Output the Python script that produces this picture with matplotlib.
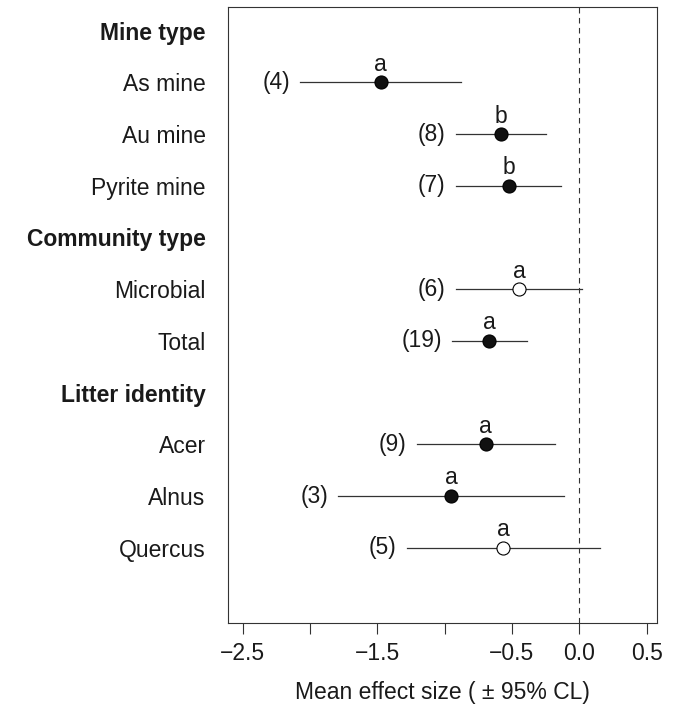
import numpy as np
import matplotlib.pyplot as plt

plt.rcParams['font.family'] = ['Liberation Sans', 'DejaVu Sans']

# row labels, top to bottom (headers are bold, have no estimate)
labels = ["Mine type", "As mine", "Au mine", "Pyrite mine",
          "Community type", "Microbial", "Total",
          "Litter identity", "Acer", "Alnus", "Quercus"]
headers = ["Mine type", "Community type", "Litter identity"]

# estimates for the non-header rows, in the same order
groups = ["As mine", "Au mine", "Pyrite mine", "Microbial", "Total",
          "Acer", "Alnus", "Quercus"]
mean = [-1.474, -0.584, -0.524, -0.445, -0.668, -0.695, -0.952, -0.564]
lower = [-2.071, -0.915, -0.915, -0.915, -0.943, -1.207, -1.789, -1.277]
upper = [-0.880, -0.250, -0.134, 0.018, -0.391, -0.180, -0.111, 0.156]
n = [4, 8, 7, 6, 19, 9, 3, 5]
letters = ["a", "b", "b", "a", "a", "a", "a", "a"]

fs = 16.5
txt = '#1a1a1a'

fig = plt.figure(figsize=(6.8, 7.05), dpi=100)
ax = fig.add_axes([0.3357, 0.1167, 0.630, 0.8729])

rows = np.arange(1, len(labels) + 1)
ypos = {lab: r for lab, r in zip(labels, rows)}

ax.axvline(0, color='#333333', lw=0.8, ls=(0, (5, 4)), zorder=1)

for g, m, lo, hi, k, let in zip(groups, mean, lower, upper, n, letters):
    y = ypos[g]
    ax.plot([lo, hi], [y, y], color='#333333', lw=0.9, zorder=2)
    filled = hi < 0
    ax.plot(m, y, 'o', ms=9.4, mec='black', mew=0.8,
            mfc='#111111' if filled else 'white', zorder=3)
    ax.annotate("(%d)" % k, (lo, y), xytext=(-7.5, 0), textcoords='offset points',
                ha='right', va='center', fontsize=fs, color=txt)
    ax.annotate(let, (m, y), xytext=(0, 8.3), textcoords='offset points',
                ha='center', va='baseline', fontsize=fs, color=txt)

ax.set_xlim(-2.606, 0.575)
ax.set_ylim(12.45, 0.55)

ax.set_xticks([-2.5, -2.0, -1.5, -1.0, -0.5, 0.0, 0.5])
ax.set_xticklabels(["\u22122.5", "", "\u22121.5", "", "\u22120.5", "0.0", "0.5"])
ax.tick_params(axis='x', length=7.7, width=0.8, pad=6.5, labelsize=fs,
               color='#333333', labelcolor=txt)

ax.set_yticks(rows[:len(labels)])
ax.set_yticklabels(labels)
ax.tick_params(axis='y', length=0, pad=16.3, labelsize=fs, labelcolor=txt)
for t in ax.get_yticklabels():
    if t.get_text() in headers:
        t.set_fontweight('bold')

for s in ax.spines.values():
    s.set_linewidth(0.8)
    s.set_color('#333333')

ax.set_xlabel("Mean effect size ( \u00b1 95% CL)", fontsize=fs, labelpad=11,
              color=txt)

plt.savefig('out.png', dpi=100)
